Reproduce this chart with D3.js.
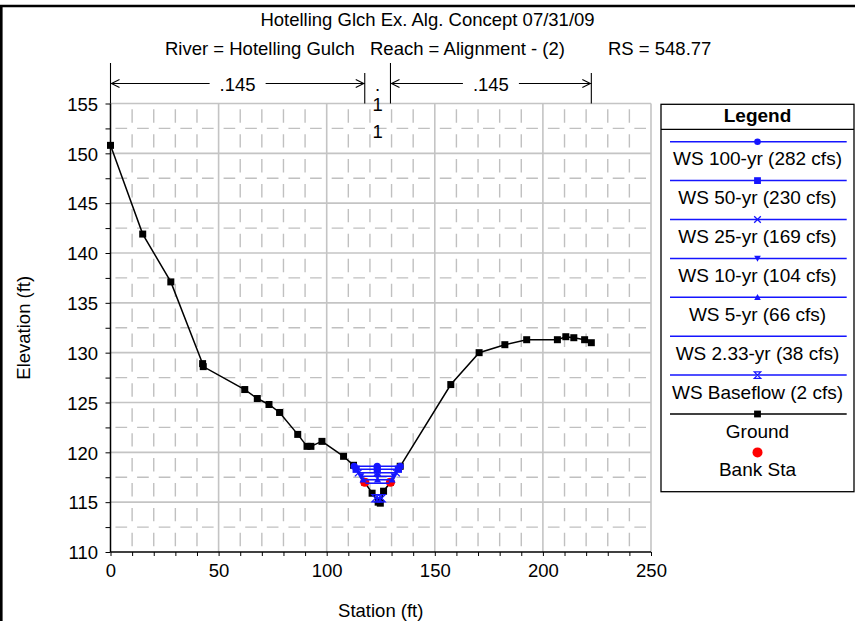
<!DOCTYPE html>
<html>
<head>
<meta charset="utf-8">
<script src="https://cdn.jsdelivr.net/npm/d3@7"></script>
<style>
  html, body { margin: 0; padding: 0; background: #fff; }
  svg { display: block; }
  text { font-family: "Liberation Sans", Arial, Helvetica, sans-serif; fill: #000; }
</style>
</head>
<body>
<svg id="chart" width="855" height="621"></svg>
<script>
// ---- Cross-section data ----
const titleText = "Hotelling Glch Ex. Alg. Concept 07/31/09";
const subtitleParts = ["River = Hotelling Gulch", "Reach = Alignment - (2)", "RS = 548.77"];

// Ground profile (station ft, elevation ft)
const groundSta  = [0, 14.9, 27.9, 42.6, 42.9, 62.1, 67.9, 73.3, 78.2, 86.6, 90.9, 92.7, 97.8, 107.8, 112.4,
                    117.6, 121.0, 123.8, 124.8, 126.3, 129.5, 134.0, 157.4, 170.5, 182.4, 192.5, 206.7, 210.6,
                    214.3, 219.3, 222.4];
const groundElev = [150.8, 141.9, 137.1, 128.9, 128.6, 126.3, 125.4, 124.8, 124.0, 121.8, 120.6, 120.6, 121.1, 119.6, 118.7,
                    117.0, 115.9, 115.0, 114.9, 116.1, 117.0, 118.6, 126.8, 130.0, 130.8, 131.3, 131.3, 131.6,
                    131.5, 131.3, 131.0];

// Bank stations
const bankSta  = [117.6, 129.5];
const bankElev = [117.0, 117.0];

// Water surface profiles
const wsNames   = ["WS 100-yr (282 cfs)", "WS 50-yr (230 cfs)", "WS 25-yr (169 cfs)", "WS 10-yr (104 cfs)",
                   "WS 5-yr (66 cfs)", "WS 2.33-yr (38 cfs)", "WS Baseflow (2 cfs)"];
const wsElev    = [118.6, 118.3, 117.95, 117.6, 117.25, 116.9, 115.4];
const wsSymbols = ["circle", "square", "x", "triangleDown", "triangleUp", "none", "hourglass"];

// Manning's n labels: left overbank, channel (stacked characters), right overbank
const nLeft = ".145";
const nChannel = [".", "1", "1"];
const nRight = ".145";

// Axis ticks
const xTickLabels = [0, 50, 100, 150, 200, 250];
const yTickLabels = [110, 115, 120, 125, 130, 135, 140, 145, 150, 155];

// ---- Drawing ----
const svg = d3.select("#chart");
const FONT = 18.5;
const BLUE = "#1515ff";

const x = d3.scaleLinear().domain([0, 250]).range([110.5, 651]);
const y = d3.scaleLinear().domain([110, 155]).range([552, 103.5]);

// outer frame (top and left edges)
svg.append("line").attr("x1", 0).attr("x2", 855).attr("y1", 6).attr("y2", 6)
   .attr("stroke", "#000").attr("stroke-width", 2.6);
svg.append("line").attr("x1", 1.3).attr("x2", 1.3).attr("y1", 5).attr("y2", 621)
   .attr("stroke", "#000").attr("stroke-width", 2.6);

// titles
svg.append("text").attr("x", 427.5).attr("y", 26).attr("text-anchor", "middle")
   .style("font-size", FONT + "px").text(titleText);
const subX = [165, 370, 608];
subtitleParts.forEach((s, i) => {
  svg.append("text").attr("x", subX[i]).attr("y", 55).style("font-size", FONT + "px").text(s);
});

// grid
const grid = svg.append("g");
const yStep = y(110) - y(112.5);       // px between horizontal grid lines
const xStep = x(10) - x(0);            // px between vertical grid lines
const vDash = yStep * 0.54, vGap = yStep - vDash;
const hDash = xStep * 0.54, hGap = xStep - hDash;

d3.range(10, 250, 10).filter(v => v % 50 !== 0).forEach(v => {
  grid.append("path")
    .attr("d", `M${x(v)},${y(110)}V${y(155)}`)
    .attr("stroke", "#c0c0c0").attr("stroke-width", 1.4).attr("fill", "none")
    .attr("stroke-dasharray", `0,${vGap / 2},${vDash},${vGap / 2}`);
});
d3.range(112.5, 155, 5).forEach(v => {
  grid.append("path")
    .attr("d", `M${x(0)},${y(v)}H${x(250)}`)
    .attr("stroke", "#c0c0c0").attr("stroke-width", 1.4).attr("fill", "none")
    .attr("stroke-dasharray", `0,${hGap / 2},${hDash},${hGap / 2}`);
});
d3.range(50, 251, 50).forEach(v => {
  grid.append("line").attr("x1", x(v)).attr("x2", x(v)).attr("y1", y(110)).attr("y2", y(155))
    .attr("stroke", "#c4c4c4").attr("stroke-width", 1.6);
});
d3.range(115, 156, 5).forEach(v => {
  grid.append("line").attr("x1", x(0)).attr("x2", x(250)).attr("y1", y(v)).attr("y2", y(v))
    .attr("stroke", "#c4c4c4").attr("stroke-width", 1.6);
});

// axes
const xAxis = d3.axisBottom(x).tickValues(d3.range(0, 251, 10)).tickSize(4)
  .tickFormat(d => xTickLabels.includes(d) ? d : "");
const gx = svg.append("g").attr("transform", `translate(0,${y(110)})`).call(xAxis);
gx.select(".domain").attr("stroke", "#000").attr("stroke-width", 1.5).attr("d", `M${x(0)},0H${x(250)}`);
gx.selectAll(".tick line").attr("stroke", "#000").attr("stroke-width", 1);
gx.selectAll(".tick text").style("font-size", FONT + "px")
  .style("font-family", '"Liberation Sans", Arial, sans-serif').attr("y", 12).attr("dy", "0.71em");

const yAxis = d3.axisLeft(y).tickValues(d3.range(110, 155.1, 2.5)).tickSize(5)
  .tickFormat(d => yTickLabels.includes(d) ? d : "");
const gy = svg.append("g").attr("transform", `translate(${x(0)},0)`).call(yAxis);
gy.select(".domain").attr("stroke", "#000").attr("stroke-width", 1.5).attr("d", `M0,${y(110)}V${y(155)}`);
gy.selectAll(".tick line").attr("stroke", "#000").attr("stroke-width", 1);
gy.selectAll(".tick text").style("font-size", FONT + "px")
  .style("font-family", '"Liberation Sans", Arial, sans-serif').attr("x", -12.5).attr("dy", "0.36em");

// axis titles
svg.append("text").attr("x", (x(0) + x(250)) / 2).attr("y", 617).attr("text-anchor", "middle")
   .style("font-size", FONT + "px").text("Station (ft)");
svg.append("text").attr("transform", `translate(30,${(y(110) + y(155)) / 2}) rotate(-90)`)
   .attr("text-anchor", "middle").style("font-size", FONT + "px").text("Elevation (ft)");

// Manning's n dimension lines
const dim = svg.append("g").attr("stroke", "#000").attr("fill", "none").attr("stroke-width", 1.1);
const arrowY = 83.5;
function dimension(s0, s1, label, top0, top1) {
  const a = x(s0), b = x(s1);
  dim.append("line").attr("x1", a).attr("x2", a).attr("y1", top0).attr("y2", y(155));
  dim.append("line").attr("x1", b).attr("x2", b).attr("y1", top1).attr("y2", y(155));
  const mid = (a + b) / 2, half = label.length * 5.5 + 6;
  dim.append("line").attr("x1", a).attr("x2", mid - half).attr("y1", arrowY).attr("y2", arrowY);
  dim.append("line").attr("x1", mid + half).attr("x2", b).attr("y1", arrowY).attr("y2", arrowY);
  dim.append("path").attr("d", `M${a + 9},${arrowY - 4}L${a + 1},${arrowY}L${a + 9},${arrowY + 4}`);
  dim.append("path").attr("d", `M${b - 9},${arrowY - 4}L${b - 1},${arrowY}L${b - 9},${arrowY + 4}`);
  svg.append("text").attr("x", mid).attr("y", arrowY + 7).attr("text-anchor", "middle")
     .style("font-size", FONT + "px").text(label);
}
dimension(groundSta[0], bankSta[0], nLeft, 63, 73);
dimension(bankSta[1], groundSta[groundSta.length - 1], nRight, 63, 73);
const chanX = (x(bankSta[0]) + x(bankSta[1])) / 2;
[91, 110.5, 138].forEach((yy, i) => {
  svg.append("text").attr("x", chanX).attr("y", yy).attr("text-anchor", "middle")
     .style("font-size", FONT + "px").text(nChannel[i]);
});

// symbol helper
function symbol(g, type, cx, cy, color, s) {
  if (type === "circle") {
    g.append("circle").attr("cx", cx).attr("cy", cy).attr("r", s).attr("fill", color);
  } else if (type === "square") {
    g.append("rect").attr("x", cx - s).attr("y", cy - s).attr("width", 2 * s).attr("height", 2 * s).attr("fill", color);
  } else if (type === "x") {
    g.append("path").attr("d", `M${cx - s},${cy - s}L${cx + s},${cy + s}M${cx - s},${cy + s}L${cx + s},${cy - s}`)
      .attr("stroke", color).attr("stroke-width", 1.3).attr("fill", "none");
  } else if (type === "triangleDown") {
    g.append("path").attr("d", `M${cx - s},${cy - s * 0.8}H${cx + s}L${cx},${cy + s}Z`).attr("fill", color);
  } else if (type === "triangleUp") {
    g.append("path").attr("d", `M${cx - s},${cy + s * 0.8}H${cx + s}L${cx},${cy - s}Z`).attr("fill", color);
  } else if (type === "hourglass") {
    g.append("path").attr("d", `M${cx - s},${cy - s}H${cx + s}L${cx - s},${cy + s}H${cx + s}Z`)
      .attr("stroke", color).attr("stroke-width", 1.2).attr("fill", "none");
  }
}

// ground
const plot = svg.append("g");
const groundPts = groundSta.map((s, i) => [s, groundElev[i]]);
plot.append("path").datum(groundPts)
  .attr("d", d3.line().x(d => x(d[0])).y(d => y(d[1])))
  .attr("fill", "none").attr("stroke", "#000").attr("stroke-width", 1.5);
groundPts.forEach(d => symbol(plot, "square", x(d[0]), y(d[1]), "#000", 3.5));

// bank stations
bankSta.forEach((s, i) => {
  plot.append("circle").attr("cx", x(s)).attr("cy", y(bankElev[i])).attr("r", 4.6).attr("fill", "#ff0000");
});

// water surfaces: each level runs between its crossings of the ground on either side of the thalweg
const thalweg = groundElev.indexOf(d3.min(groundElev));
function crossing(E, dir) {
  let i = thalweg;
  while (i + dir >= 0 && i + dir < groundElev.length && groundElev[i + dir] < E) i += dir;
  const j = i + dir;
  const t = (E - groundElev[i]) / (groundElev[j] - groundElev[i]);
  return groundSta[i] + t * (groundSta[j] - groundSta[i]);
}
wsElev.forEach((E, k) => {
  const L = crossing(E, -1), R = crossing(E, 1);
  plot.append("line").attr("x1", x(L)).attr("x2", x(R)).attr("y1", y(E)).attr("y2", y(E))
    .attr("stroke", BLUE).attr("stroke-width", 1.6);
  [L, (L + R) / 2, R].forEach(s => symbol(plot, wsSymbols[k], x(s), y(E), BLUE, 3.6));
});

// legend
const lg = svg.append("g");
const lx0 = 661, lx1 = 854, ly0 = 104.3, ly1 = 491.7;
lg.append("rect").attr("x", lx0).attr("y", ly0).attr("width", lx1 - lx0).attr("height", ly1 - ly0)
  .attr("fill", "#fff").attr("stroke", "#000").attr("stroke-width", 1.3);
lg.append("line").attr("x1", lx0).attr("x2", lx1).attr("y1", 129.3).attr("y2", 129.3)
  .attr("stroke", "#000").attr("stroke-width", 1.3);
const lcx = (lx0 + lx1) / 2;
lg.append("text").attr("x", lcx).attr("y", 122).attr("text-anchor", "middle")
  .style("font-size", "19px").style("font-weight", "bold").text("Legend");
const legendItems = wsNames.map((n, i) => ({ name: n, color: BLUE, sym: wsSymbols[i], line: true }))
  .concat([{ name: "Ground", color: "#000", sym: "square", line: true },
           { name: "Bank Sta", color: "#ff0000", sym: "bank", line: false }]);
const rowH = 38.9, row0 = 141.7;
legendItems.forEach((it, i) => {
  const ly = row0 + i * rowH;
  if (it.line) {
    lg.append("line").attr("x1", 670).attr("x2", 846.7).attr("y1", ly).attr("y2", ly)
      .attr("stroke", it.color).attr("stroke-width", 1.5);
    symbol(lg, it.sym, lcx, ly, it.color, it.sym === "square" ? 3.4 : 3.3);
  } else {
    lg.append("circle").attr("cx", lcx).attr("cy", ly - 0.5).attr("r", 5).attr("fill", it.color);
  }
  lg.append("text").attr("x", lcx).attr("y", ly + (it.line ? 23.5 : 23)).attr("text-anchor", "middle")
    .style("font-size", "19px").text(it.name);
});
</script>
</body>
</html>
